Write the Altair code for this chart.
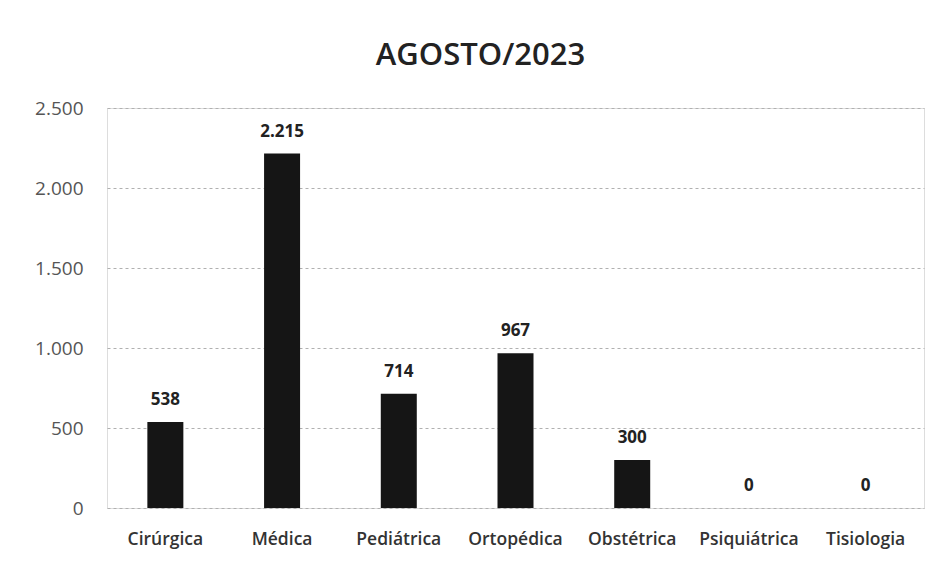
import altair as alt
import pandas as pd

categories = ["Cirúrgica", "Médica", "Pediátrica", "Ortopédica", "Obstétrica", "Psiquiátrica", "Tisiologia"]
values = [538, 2215, 714, 967, 300, 0, 0]
value_labels = ["538", "2.215", "714", "967", "300", "0", "0"]
y_ticks = [0, 500, 1000, 1500, 2000, 2500]

df = pd.DataFrame({"cat": categories, "val": values, "lbl": value_labels})

FONT = "Open Sans"

x = alt.X("cat:N", sort=categories, title=None,
          scale=alt.Scale(paddingInner=0, paddingOuter=0),
          axis=alt.Axis(labelAngle=0, labelFont=FONT, labelFontSize=17.5, labelFontWeight=600,
                        labelColor="#333333", ticks=False, domain=False, labelPadding=22, grid=False,
                        gridColor="transparent", domainColor="transparent"))
y = alt.Y("val:Q", title=None,
          scale=alt.Scale(domain=[0, 2500], nice=False),
          axis=alt.Axis(values=y_ticks, labelFont=FONT, labelFontSize=19, labelColor="#555555",
                        labelPadding=24, ticks=False, domain=False, domainColor="transparent", grid=True,
                        gridColor="#b0b0b0", gridDash=[3, 3], gridWidth=1,
                        labelExpr="replace(format(datum.value, ','), ',', '.')"))

base = alt.Chart(df).encode(x=x, y=y)
bars = base.mark_bar(size=36, color="#151515")
texts = base.mark_text(dy=-22, font=FONT, fontSize=17, fontWeight="bold", color="#222222").encode(text="lbl:N")

chart = (bars + texts).properties(
    width=817, height=400,
    title=alt.Title("AGOSTO/2023", font=FONT, fontSize=31, fontWeight=600, color="#222222",
                    anchor="middle", dx=-35, offset=27),
    autosize=alt.AutoSizeParams(type="none"),
    padding={"left": 99, "top": 100, "right": 10, "bottom": 50},
).configure_view(stroke="transparent", strokeWidth=0).configure(background="white").configure_axis(
    domain=False, ticks=False, domainColor="transparent"
)

chart.save("out.html", embed_options={"renderer": "svg", "actions": False})
